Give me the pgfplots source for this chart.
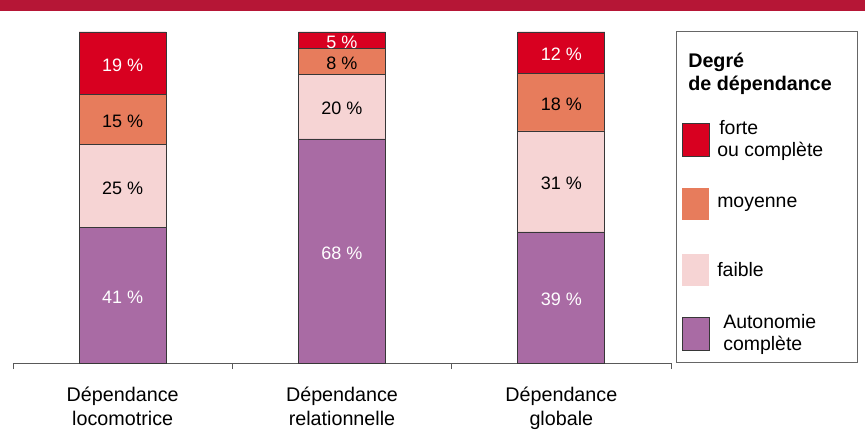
\documentclass[border=0pt]{standalone}
\usepackage{pgfplots}
\pgfplotsset{compat=1.18}
\usepackage{pgfplotstable}
\usepackage{fontspec}
\setmainfont{Liberation Sans}
\definecolor{forte}{RGB}{216,0,32}
\definecolor{moyenne}{RGB}{231,124,92}
\definecolor{faible}{RGB}{246,212,212}
\definecolor{autonomie}{RGB}{169,107,164}
\definecolor{bandred}{RGB}{182,22,54}
\definecolor{edge}{RGB}{55,55,55}

\pgfplotstableread{
x y lab
0.5 41.0 41
1.5 67.7 68
2.5 39.6 39
}\autonomie
\pgfplotstableread{
x y lab
0.5 25.0 25
1.5 19.6 20
2.5 30.5 31
}\faible
\pgfplotstableread{
x y lab
0.5 15.0 15
1.5 7.6 8
2.5 17.5 18
}\moyenne
\pgfplotstableread{
x y lab
0.5 19.0 19
1.5 5.1 5
2.5 12.4 12
}\forte

\begin{document}
\begin{tikzpicture}[x=1pt,y=1pt]
\useasboundingbox (-9.75,-49.5) rectangle (639,272.25);
\fill[bandred] (-9.75,264) rectangle (639,272.25);
\begin{axis}[
  at={(0,0)}, anchor=south west,
  scale only axis,
  width=493.5pt, height=248.25pt,
  xmin=0, xmax=3, ymin=0, ymax=100,
  ybar stacked, bar width=65.25pt,
  axis x line*=bottom, axis y line=none,
  x axis line style={draw=black!65, line width=0.7pt, -},
  xtick={0,1,2,3}, xticklabels={},
  tick align=outside, major tick length=4.5pt,
  xtick style={draw=black!65, line width=0.7pt},
  extra x ticks={0.5,1.5,2.5},
  extra x tick labels={Dépendance\\locomotrice, Dépendance\\relationnelle, Dépendance\\globale},
  extra x tick style={major tick length=0pt, tick label style={align=center, anchor=north, yshift=-14.5pt, font=\fontsize{14.8}{18}\selectfont}},
  clip=false,
  point meta=explicit symbolic,
  nodes near coords={\pgfplotspointmeta\ \%},
  every node near coord/.append style={anchor=center, yshift=-1.5pt, font=\fontsize{13.5}{15}\selectfont},
]
\addplot[fill=autonomie, draw=edge, line width=0.6pt, every node near coord/.append style={text=white}] table[x=x, y=y, meta=lab] {\autonomie};
\addplot[fill=faible, draw=edge, line width=0.6pt, every node near coord/.append style={text=black}] table[x=x, y=y, meta=lab] {\faible};
\addplot[fill=moyenne, draw=edge, line width=0.6pt, every node near coord/.append style={text=black}] table[x=x, y=y, meta=lab] {\moyenne};
\addplot[fill=forte, draw=edge, line width=0.6pt, every node near coord/.append style={text=white}] table[x=x, y=y, meta=lab] {\forte};
\end{axis}
% legend
\draw[black!60, line width=0.75pt] (497.25,0.75) rectangle (633,248.25);
\node[anchor=west, align=left, inner sep=0pt, font=\fontsize{14.8}{17.3}\selectfont\bfseries] at (506.25,217.1) {Degré\\de dépendance};
\filldraw[fill=forte, draw=edge, line width=0.6pt] (501.75,154.9) rectangle (522,179.6);
\node[anchor=west, align=left, inner sep=0pt, font=\fontsize{14.6}{16.5}\selectfont] at (528,167.25) {\hspace*{1.5pt}forte\\ou complète};
\fill[moyenne] (501.75,106.9) rectangle (522,131.6);
\node[anchor=west, align=left, inner sep=0pt, font=\fontsize{14.6}{16.5}\selectfont] at (528,119.25) {moyenne};
\fill[faible] (501.75,57.4) rectangle (522,82.1);
\node[anchor=west, align=left, inner sep=0pt, font=\fontsize{14.6}{16.5}\selectfont] at (528,69.75) {faible};
\filldraw[fill=autonomie, draw=edge, line width=0.6pt] (501.75,9.4) rectangle (522,34.1);
\node[anchor=west, align=left, inner sep=0pt, font=\fontsize{14.6}{16.5}\selectfont] at (532.5,21.75) {Autonomie\\complète};
\end{tikzpicture}
\end{document}
